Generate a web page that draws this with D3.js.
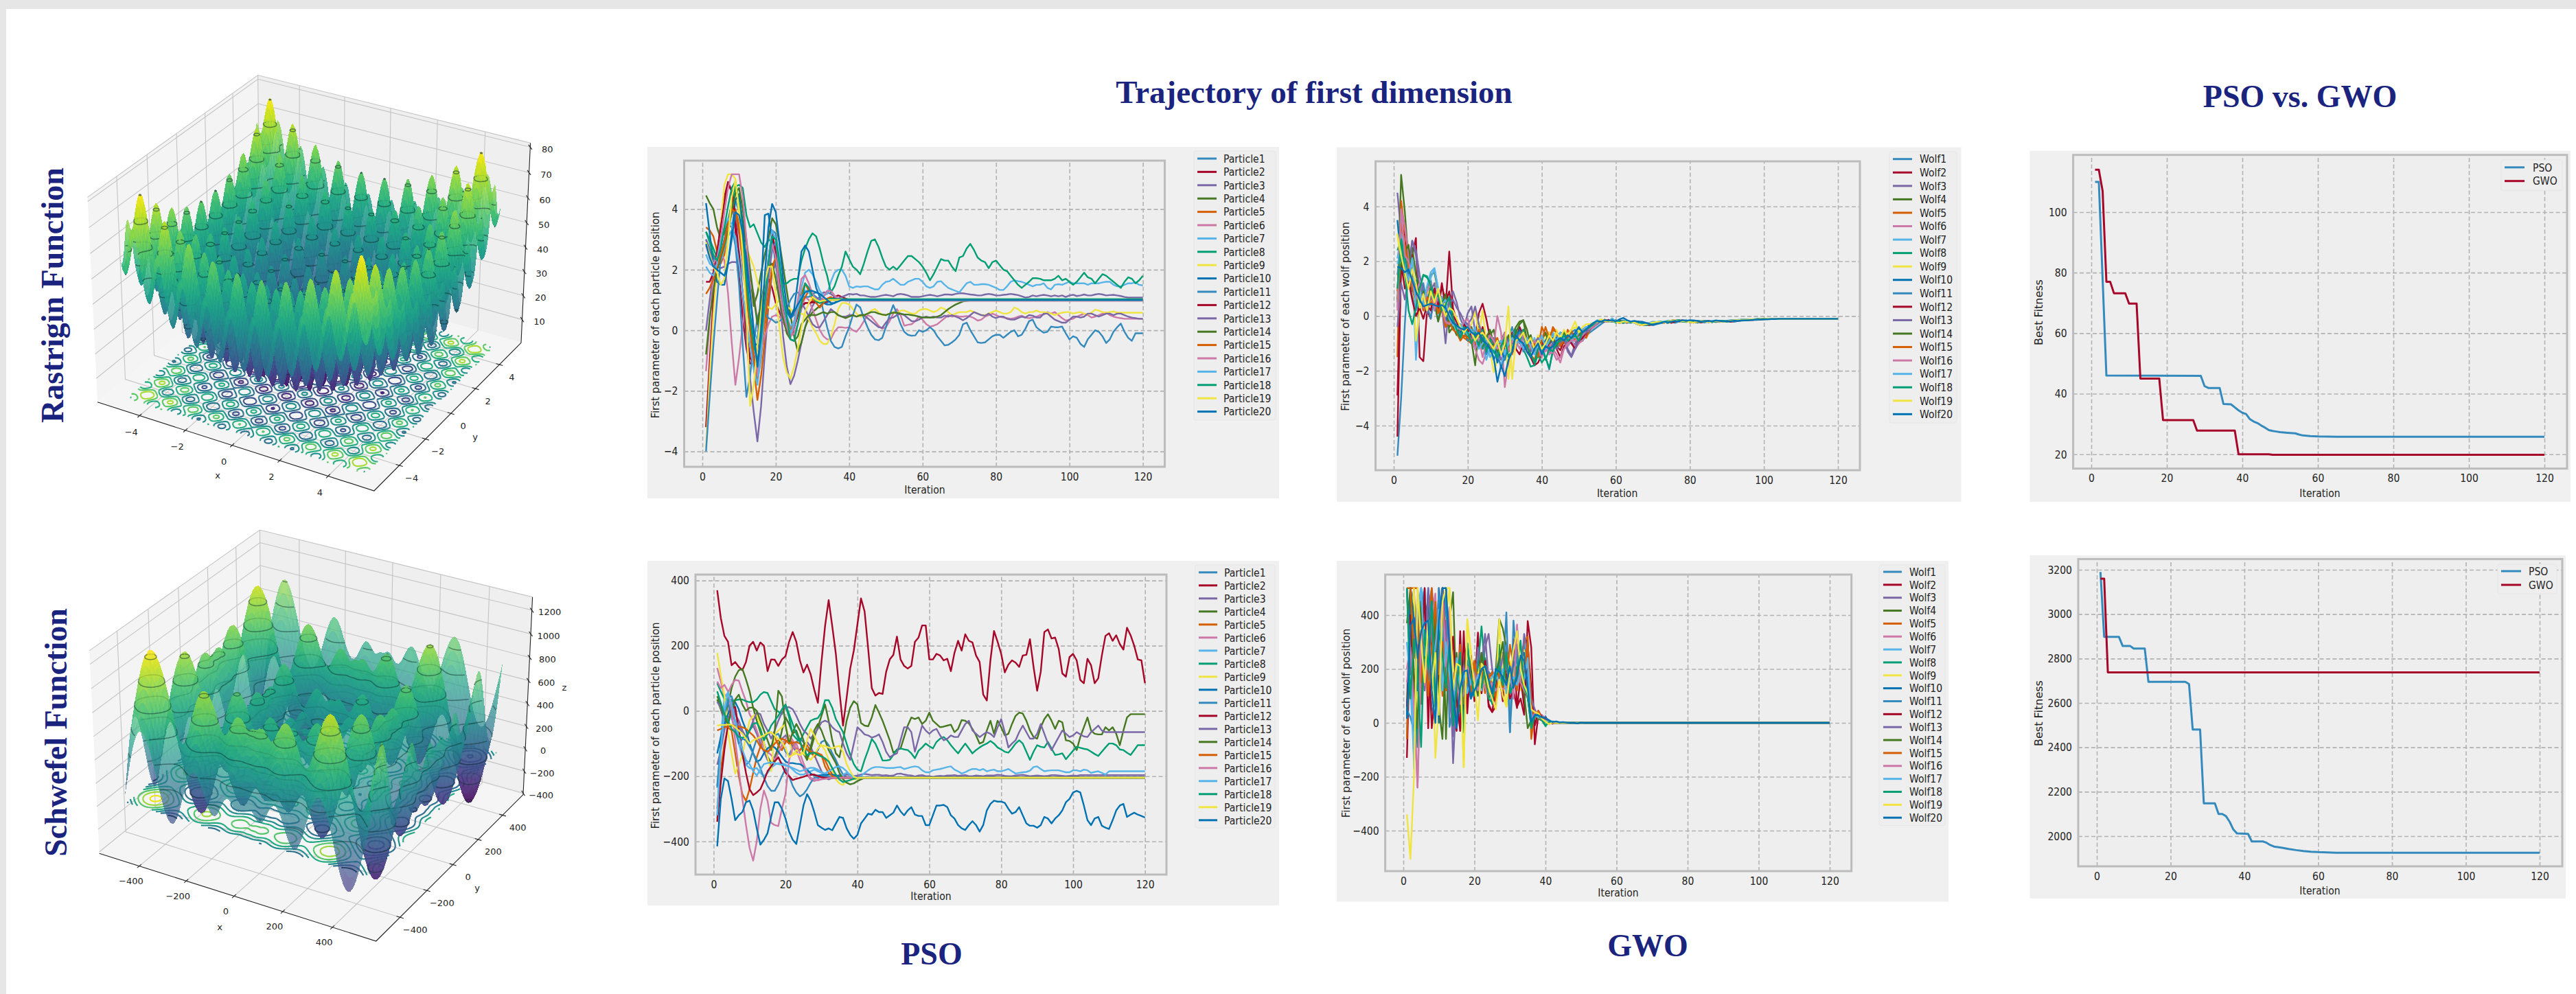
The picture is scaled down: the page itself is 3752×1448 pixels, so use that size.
<!DOCTYPE html>
<html>
<head>
<meta charset="utf-8">
<script src="https://cdn.jsdelivr.net/npm/d3@7"></script>
<style>
html, body { margin: 0; background: #fff; }
svg { display: block; }
text { font-family: "DejaVu Sans"; fill: #222; }
.tick text { font-size: 14px; }
.tick text, .stretch { transform-box: fill-box; transform-origin: center; transform: scaleY(1.18); }
.title { font-family: "Liberation Serif"; font-weight: bold; font-size: 46px; fill: #1a237e; }
</style>
</head>
<body>
<svg id="chart" width="3752" height="1448"></svg>
<script>
// all line values are read by eye off the picture, iteration 1, 2, 3 ...
// a series shorter than 120 holds its last value until iteration 120
const bmh = ["#348ABD", "#A60628", "#7A68A6", "#467821", "#D55E00", "#CC79A7", "#56B4E9", "#009E73", "#F0E442", "#0072B2"];
const iterTicks = [0, 20, 40, 60, 80, 100, 120];

const psoRastrigin = [
[3.0,2.7,2.4,2.2,2.3,2.7,3.3,4.0,4.3,3.9,3.0,1.6,0.2,-0.9,-1.7,-0.9,0.6,2.3,3.3,3.2,2.3,1.2,0.6,0.4,0.5,0.9,1.2,1.3,1.3,1.2,1.1,1.0,0.9,0.9,1.0,1.05,1.05,1.0,1.0],
[-3.2,-1.0,1.0,2.5,3.5,4.4,4.9,4.6,3.3,1.8,0.4,-0.6,-1.1,-1.1,-0.6,0.4,1.2,1.7,1.4,0.9,0.6,0.3,0.0,-0.15,0.1,0.5,0.75,0.9,0.9,0.95,0.95,0.95,0.93,0.95,1.0,1.1,1.15,1.1,1.05,1.0],
[0,1.0,1.9,2.1,2.05,2.1,2.2,2.25,2.25,2.2,1.2,-0.3,-1.6,-2.7,-3.67,-2.5,-0.8,0.8,1.9,2.2,1.2,-0.2,-1.2,-1.78,-1.5,-1.0,-0.4,0.1,0.5,0.8,1.0,1.1,1.25,1.25,1.2,1.1,1.05,1.1,1.15,1.2,1.18,1.2,1.15,1.15,1.12,1.1,1.1,1.12,1.15,1.17,1.15,1.12,1.18,1.2,1.18,1.15,1.1,1.1,1.1,1.12,1.15,1.17,1.15,1.12,1.15,1.18,1.18,1.17,1.2,1.22,1.22,1.2,1.18,1.17,1.15,1.15,1.18,1.2,1.18,1.15,1.15,1.17,1.18,1.2,1.18,1.16,1.12,1.08,1.1,1.15,1.12,1.15,1.17,1.15,1.12,1.15,1.12,1.15,1.1,1.15,1.17,1.13,1.15,1.18,1.15,1.15,1.18,1.2,1.18,1.15,1.16,1.17,1.15,1.13,1.1,1.08],
[4.45,4.2,4.0,3.4,3.0,3.2,3.6,4.2,4.7,4.3,3.6,2.8,1.8,0.8,1.2,1.9,2.5,3.0,3.7,3.5,2.9,2.1,1.3,0.5,-0.2,-0.7,-0.4,0.1,0.4,0.6,0.7,0.8,0.9,1.0,1.0,0.99],
[3.4,3.3,3.1,2.6,2.2,2.5,3.3,3.9,4.0,3.5,2.5,1.2,0,-1.2,-2.3,-1.5,-0.3,1,2,2.4,1.8,1,0.3,0,0.3,0.8,1.2,1.55,1.3,1.0,0.9,0.95,1,1.01],
[-1.35,0.3,1.7,2.5,2.6,2.3,1.2,-0.4,-1.8,-0.9,0.2,1.2,1.6,1.2,0.3,-0.6,-0.2,0.2,0.45,0.5,0.45,0.3,0.05,-0.2,-0.1,0.2,0.7,1.1,1.0,0.7,0.35,0.0,-0.2,-0.3,-0.3,-0.05,0.1,0.1,0.08,0.1,0.0,-0.05,0.1,0.3,0.5,0.45,0.3,0.15,0.05,0.1,0.3,0.55,0.7,0.5,0.15,0.18,0.2,0.3,0.45,0.35,0.2,0.12,0.15,0.2,0.3,0.4,0.5,0.45,0.48,0.45,0.45,0.47,0.45,0.4,0.32,0.35,0.45,0.5,0.55,0.5,0.45,0.42,0.4,0.38,0.4,0.45,0.48,0.42,0.4,0.42,0.45,0.5,0.52,0.6,0.55,0.6,0.5,0.4,0.32,0.35,0.38,0.45,0.5,0.55,0.5,0.42,0.45,0.5,0.55,0.58,0.5,0.45,0.42,0.4,0.38],
[2.5,2.2,2.1,2.1,2.3,2.7,3.1,3.3,3.1,2.6,1.9,1.2,0.5,0.0,-0.3,0.1,0.9,1.8,2.6,2.8,2.1,1.2,0.5,0.1,0.3,0.8,1.4,1.9,2.0,1.85,1.6,1.3,1.15,1.2,1.6,1.9,2.0,2.0,1.8,1.45,1.4,1.45,1.43,1.45,1.45,1.4,1.35,1.35,1.5,1.6,1.62,1.7,1.6,1.5,1.5,1.6,1.65,1.7,1.7,1.6,1.45,1.4,1.45,1.6,1.62,1.5,1.4,1.35,1.3,1.25,1.4,1.55,1.6,1.5,1.5,1.52,1.52,1.5,1.45,1.4,1.33,1.33,1.45,1.6,1.65,1.62,1.6,1.55,1.5,1.45,1.5,1.5,1.55,1.4,1.35,1.5,1.52,1.5,1.55,1.6,1.55,1.55,1.55,1.55,1.5,1.55,1.55,1.55,1.58,1.6,1.6,1.5,1.45,1.45,1.5,1.55,1.55,1.58,1.5,1.48],
[3.25,3.0,2.7,2.4,2.5,2.9,3.5,4.2,4.75,4.8,4.7,3.8,3.4,3.5,3.2,2.9,2.75,3,2.9,2.6,2.0,1.55,1.55,1.65,1.7,1.7,2.3,2.7,3,3.2,3.1,2.7,2.2,1.8,1.25,1.45,1.8,2.1,2.6,2.35,2.1,2.0,1.85,2.2,2.6,2.95,3.0,2.75,2.4,2.1,2,2.1,2.0,2.15,2.3,2.45,2.45,2.35,2.25,2.1,1.9,1.65,1.85,2.1,2.35,2.3,2.3,2.1,1.95,2.4,2.45,2.7,2.85,2.65,2.4,2.3,2.25,2.05,2.25,2.3,2.15,2,1.95,1.8,1.65,1.5,1.4,1.5,1.6,1.72,1.72,1.7,1.65,1.65,1.65,1.7,1.8,1.65,1.7,1.6,1.5,1.6,1.75,1.9,1.75,1.7,1.55,1.7,1.85,1.8,1.7,1.6,1.5,1.4,1.6,1.75,1.7,1.55,1.65,1.8],
[-3.9,-1.5,0.5,2.0,3.5,4.8,5.15,5.15,5.0,3.8,3.0,2.7,2.4,2.1,1.6,1.2,0.9,0.75,0.7,0.85,1.0,0.9,0.8,0.7,0.6,0.55,0.55,0.5,0.35,0.1,-0.1,-0.35,-0.45,-0.45,-0.2,0.2,0.7,0.9,0.9,0.85,0.7,0.55,0.45,0.45,0.55,0.65,0.7,0.6,0.5,0.5,0.55,0.6,0.55,0.65,0.65,0.6,0.55,0.55,0.65,0.7,0.7,0.65,0.6,0.65,0.75,0.7,0.6,0.5,0.55,0.6,0.6,0.6,0.65,0.6,0.55,0.5,0.5,0.55,0.6,0.65,0.6,0.55,0.55,0.6,0.75,0.7,0.6,0.55,0.6,0.6,0.65,0.6,0.6,0.58,0.55,0.5,0.55,0.58,0.6,0.6,0.55,0.58,0.6,0.55,0.52,0.58,0.68,0.65,0.6,0.58,0.6,0.62,0.58],
[4.2,3.2,2.2,1.6,1.5,1.5,2.2,3.2,4.3,4.5,3.5,2.0,0.5,-0.4,-0.5,1.3,3.8,3.85,3.0,2.2,1.6,1.0,0.6,0.45,0.7,1.6,2.6,2.8,2.6,2.0,1.4,1.1,0.9,0.85,0.85,0.9,1.0,1.0,0.98],
[-4,-2.2,-0.5,1.0,2.4,3.0,3.5,3.4,2.8,1.5,-0.5,-2.2,-1.5,-0.4,0.4,0.8,0.6,0.4,0.35,0.25,0.3,0.4,0.7,1.0,1.2,1.25,1.1,1.1,1.1,1.2,1.25,1.2,0.6,0.1,-0.35,-0.55,-0.6,-0.55,-0.2,0.1,0.5,0.85,0.75,0.4,0.1,-0.15,-0.3,-0.33,-0.25,0.1,0.5,0.83,0.55,0.2,-0.05,-0.15,-0.18,-0.17,0,-0.05,0.0,0.1,0.0,-0.2,-0.35,-0.5,-0.48,-0.4,-0.3,-0.15,0.2,0.25,0.0,-0.2,-0.4,-0.42,-0.4,-0.3,-0.2,-0.15,-0.15,-0.25,-0.15,-0.05,0.0,-0.2,-0.15,0.05,0.3,0.35,0.1,0,-0.08,-0.05,0.12,0.1,0.1,0.12,-0.1,-0.3,-0.2,-0.25,-0.45,-0.55,-0.3,-0.15,0,-0.05,-0.2,-0.42,-0.3,-0.05,0.1,0.22,-0.05,-0.25,-0.35,-0.1],
[1.6,1.6,1.9,2.6,3.4,4.2,4.8,4.6,3.7,2.5,1.2,0.0,-0.9,-1.1,-1.4,-0.2,1.2,2.4,3.2,2.6,1.6,0.7,0.0,-0.2,0.1,0.5,0.8,0.9,0.9,0.92,0.93,0.92,0.92,0.95,1.0,1.02],
[3.0,2.6,2.2,2.0,2.5,3.0,3.5,4.0,3.8,3.2,2.3,1.2,0.1,-0.8,-1.5,-0.5,0.6,1.7,2.7,2.9,2.1,1.0,0.3,-0.2,0.1,0.6,0.9,0.7,0.45,0.2,0.1,0.1,0.3,0.5,0.7,0.6,0.5,0.45,0.45,0.5,0.5,0.45,0.5,0.5,0.4,0.3,0.2,0.1,0.08,0.25,0.4,0.42,0.5,0.55,0.5,0.4,0.3,0.3,0.35,0.42,0.45,0.42,0.45,0.42,0.42,0.48,0.45,0.5,0.45,0.4,0.33,0.4,0.5,0.6,0.55,0.5,0.48,0.55,0.45,0.4,0.45,0.45,0.38,0.35,0.35,0.4,0.45,0.42,0.5,0.48,0.42,0.42,0.55,0.55,0.45,0.35,0.3,0.25,0.25,0.35,0.45,0.45,0.42,0.45,0.55,0.55,0.5,0.45,0.5,0.55,0.55,0.5,0.55,0.55,0.5,0.45,0.42,0.4,0.38],
[-0.8,0.4,1.3,2.0,2.4,2.8,3.3,3.9,4.5,4.7,4.0,3.0,2.0,1.1,0.2,0.9,1.6,2.1,2.2,1.7,1.0,0.4,-0.1,-0.3,-0.35,-0.2,0.2,0.35,0.5,0.5,0.5,0.55,0.6,0.55,0.6,0.6,0.5,0.45,0.4,0.45,0.5,0.45,0.5,0.5,0.55,0.6,0.6,0.55,0.52,0.5,0.55,0.58,0.58,0.55,0.52,0.52,0.5,0.48,0.45,0.42,0.42,0.42,0.42,0.45,0.5,0.6,0.7,0.78,0.85,0.9,0.95,0.97,0.98,1.0,1.01],
[1.2,1.4,1.7,2.1,2.5,2.9,3.5,4.0,3.9,3.3,2.3,1.2,0.1,-0.9,-1.6,-0.7,0.3,1.2,2.1,2.4,1.9,1.1,0.4,0,0.2,0.6,0.9,1.1,1.3,1.2,0.9,0.75,0.9,1.05,1.1,1.0],
[2.8,2.4,2.2,2.4,3.0,3.9,4.7,5.15,5.15,5.15,4.4,3.0,1.4,0,-1.5,-0.8,0.8,2.2,2.85,2.4,1.4,0.6,0.1,-0.25,0.2,1.0,1.7,1.82,1.55,1.2,1.0,0.9,1.1,1.3,1.3,1.15,1.05,1.0,0.97],
[2.1,1.9,1.8,2.2,2.9,3.4,3.7,3.5,3.0,2.2,1.2,0.3,-0.5,-1.3,-1.8,-0.7,0.9,2.4,3.3,3.0,2.0,1.0,0.3,-0.1,0.2,0.7,1.1,1.3,1.25,1.1,1,0.95,0.95,1,1.02,0.99],
[3.25,2.9,2.5,2.3,2.7,3.4,4.1,4.7,4.9,4.2,3.0,1.6,0.4,-0.5,-1.0,-0.3,0.9,2.2,3.1,3.0,2.2,1.2,0.4,-0.3,-0.35,0.2,0.9,1.55,1.4,1.1,0.95,0.9,0.95,1.0,1.05,1.03],
[2.9,2.5,2.1,1.9,1.5,1.7,3.0,4.4,4.95,4.0,2.5,0.6,-2.5,-1.8,-0.5,0.6,1.6,2.1,2.1,1.2,0.1,-0.9,-1.4,-1.6,-1.2,-0.6,0.1,0.6,0.9,1.1,1.0,0.95,0.98,1.0],
[2.85,2.4,2.1,2.0,1.9,1.8,2.2,3.0,3.9,3.8,3.2,2.4,1.2,0.0,-1.2,0.0,1.8,3.4,4.17,3.9,2.9,1.7,0.8,0.4,0.6,0.85,1.05,1.25,1.3,1.3,1.25,1.2,1.1,1.0,0.9,0.9,0.95,1.0]
];

const psoSchwefel = [
[-235,-100,0,40,45,10,-60,-120,-165,-155,-120,-85,-85,-100,-130,-110,-75,-70,-95,-125,-135,-110,-95,-85,-95,-120,-130,-135,-120,-95,-90,-105,-130,-150,-175,-195,-203,-205],
[370,285,230,212,140,150,135,125,150,200,212,185,210,200,122,158,157,138,158,168,212,242,212,155,118,142,112,65,25,150,260,340,260,175,60,-45,40,130,185,265,345,305,190,70,47,55,52,120,158,172,228,158,138,130,138,212,225,262,262,158,158,175,170,155,160,122,178,215,185,235,215,210,170,150,50,32,155,245,212,175,118,142,155,148,135,170,172,220,135,62,120,242,250,222,225,190,115,105,165,175,155,95,85,160,140,85,100,170,230,238,215,232,205,188,255,232,200,158,155,85],
[-165,-120,-60,-10,35,-10,-30,-60,-80,-60,-45,-70,-100,-125,-150,-165,-140,-110,-85,-75,-90,-110,-125,-120,-105,-95,-110,-135,-160,-185,-205,-210,-205,-200,-197,-196,-195,-197,-200,-198,-195,-193,-195,-197,-196,-196,-198,-197,-199,-198,-193,-192,-195,-197,-198,-201,-198,-197,-200,-200,-202,-200,-199,-200,-198,-198,-197,-199,-198,-197,-200,-200,-198,-199,-200,-198,-198,-198,-196,-197,-199,-200,-200,-198,-197,-196,-198,-200,-199,-198,-199,-200,-199,-197,-197,-198,-199,-200,-199,-198,-199,-197],
[35,5,-30,20,70,105,125,129,97,60,10,-30,-65,-100,-140,-160,-150,-110,-60,-20,-40,-70,-60,-90,-130,-150,-120,-80,-50,-15,20,-30,-90,-130,-142,-90,-30,10,30,20,-37,-45,-47,-20,18,-5,-30,-60,-90,-128,-120,-115,-80,-45,-20,-25,-20,-40,-30,-5,-30,-40,-50,-48,-45,-42,-65,-55,-28,-30,-38,-55,-75,-100,-95,-60,-30,-70,-30,-50,-75,-70,-40,-15,-5,-8,-30,-60,-80,-85,-50,-25,-10,-30,-55,-30,-35,-90,-92,-100,-120,-80,-50,-20,-60,-70,-72,-72,-50,-60,-50,-70,-105,-60,-20,-10],
[-300,-180,-100,-50,-60,-130,-200,-255,-276,-240,-190,-142,-110,-85,-70,-65,-80,-105,-120,-95,-85,-100,-115,-120,-110,-105,-125,-140,-130,-135,-150,-175,-195,-203,-205],
[132,90,45,55,80,95,93,60,30,-10,-30,-60,-90,-110,-125,-135,-150,-130,-105,-85,-75,-90,-120,-150,-175,-195,-210,-215,-210,-208,-207,-205],
[-330,-80,40,55,20,-40,-100,-140,-165,-175,-178,-175,-190,-200,-190,-175,-165,-160,-160,-165,-170,-180,-190,-195,-195,-190,-185,-180,-185,-190,-195,-200,-205,-205,-200,-195,-190,-195,-200,-205,-200,-190,-182,-175,-172,-172,-173,-175,-175,-175,-173,-172,-178,-175,-172,-170,-172,-182,-188,-188,-182,-180,-178,-175,-172,-170,-180,-185,-192,-188,-182,-178,-178,-182,-178,-185,-182,-180,-185,-185,-182,-178,-185,-192,-190,-188,-187,-183,-172,-170,-178,-185,-183,-182,-182,-182,-185,-188,-188,-182,-182,-185,-180,-182,-190,-187,-185,-190,-195,-185],
[85,60,37,33,30,33,35,35,30,27,27,35,50,58,55,30,5,-2,-10,16,-20,-72,-85,-93,-70,-50,-30,-25,-22,-5,33,33,10,-25,-45,-65,-100,-135,-163,-180,-185,-150,-120,-86,-100,-125,-152,-152,-150,-135,-118,-115,-118,-120,-130,-145,-122,-112,-100,-108,-115,-95,-85,-80,-90,-105,-118,-130,-115,-100,-115,-130,-120,-112,-105,-100,-92,-100,-112,-118,-125,-128,-115,-100,-90,-100,-125,-150,-125,-105,-110,-112,-95,-115,-135,-133,-130,-148,-135,-122,-110,-113,-116,-118,-125,-132,-138,-125,-112,-100,-100,-105,-118,-120,-128,-135,-120,-105],
[178,110,48,-65,-130,-192,-165,-135,-80,-30,-15,-10,-50,-100,-140,-185,-72,-60,-50,-40,-90,-135,-120,-125,-130,-140,-150,-135,-115,-105,-120,-150,-180,-210,-222,-227,-215,-212,-210,-208,-207,-206,-206,-205,-205],
[-130,-80,-40,-10,15,27,5,-30,-58,-100,-130,-156,-150,-130,-115,-107,-112,-125,-140,-155,-160,-160,-162,-163,-170,-180,-192,-198,-198,-197,-196,-195,-195,-198,-200,-203,-205],
[-230,-100,-10,30,-20,-60,-100,-85,-90,-110,-130,-150,-175,-205,-230,-245,-245,-225,-200,-177,-200,-230,-250,-262,-255,-240,-220,-205,-205,-200,-200,-203,-205],
[-340,-220,-120,-40,10,12,-60,-130,-190,-240,-258,-250,-240,-215,-185,-170,-155,-142,-165,-190,-200,-212,-208,-205,-202,-198,-196,-195,-200,-203,-205],
[28,10,-30,-20,-10,-30,-45,-70,-85,-60,-30,-5,-10,-40,-60,-85,-60,-30,-5,10,12,5,-15,-40,-60,-70,-85,-70,-55,-35,-30,-35,-50,-60,-65,-100,-130,-150,-100,-50,-60,-72,-75,-82,-78,-72,-95,-125,-142,-135,-130,-90,-50,-50,-65,-125,-85,-45,-60,-70,-60,-55,-75,-90,-85,-75,-80,-80,-60,-40,-30,-60,-70,-80,-72,-65,-70,-80,-50,-25,-65,-112,-100,-90,-65,-45,-65,-85,-85,-70,-40,-70,-100,-120,-100,-80,-60,-70,-80,-75,-65,-72,-78,-80,-65,-55,-45,-60,-65,-65],
[45,20,-20,-40,0,35,50,20,0,10,10,0,-30,-60,-90,-120,-60,62,44,-44,-100,-65,-40,-60,-90,-150,-110,-60,-40,-60,-90,-120,-140,-160,-190,-210,-220,-225,-222,-215,-210,-205],
[-60,-55,-50,-48,-45,-46,-48,-50,-55,-65,-75,-90,-110,-120,-125,-115,-100,-90,-85,-90,-100,-98,-95,-100,-110,-118,-125,-128,-130,-135,-170,-190,-200,-205],
[90,70,80,60,0,-90,-180,-270,-350,-420,-459,-400,-300,-244,-276,-343,-350,-353,-300,-255,-150,-114,-100,-130,-160,-190,-205,-210,-213,-210,-208,-206,-205],
[-320,-120,0,58,20,-30,-78,-120,-150,-163,-185,-198,-180,-163,-160,-158,-160,-163,-165,-167,-170,-175,-180,-185,-182,-178,-174,-175,-180,-188,-192,-185,-178,-172,-170,-175,-185,-198,-204,-205],
[60,25,-10,-30,-55,-65,-80,-82,-79,-60,-40,-36,-55,-90,-70,-45,-30,-15,5,20,-10,-40,-70,-95,-120,-135,-130,-128,-135,-140,-145,-155,-175,-195,-210,-218,-215,-212,-208,-206,-205],
[-45,-43,-43,-42,-42,-50,-60,-70,-85,-100,-90,-85,-80,-75,-68,-65,-75,-85,-95,-115,-142,-135,-130,-135,-130,-90,-55,-75,-100,-105,-108,-112,-115,-110,-107,-125,-163,-185,-202,-206,-205],
[-415,-270,-207,-215,-270,-335,-320,-310,-280,-275,-305,-360,-410,-395,-375,-325,-280,-280,-300,-330,-370,-395,-408,-350,-290,-255,-275,-310,-350,-358,-365,-360,-366,-345,-325,-328,-360,-380,-392,-380,-345,-330,-315,-318,-303,-310,-310,-328,-320,-312,-290,-308,-320,-305,-295,-318,-322,-322,-350,-350,-320,-290,-290,-288,-295,-320,-330,-350,-360,-365,-350,-338,-350,-370,-350,-305,-285,-275,-278,-278,-282,-300,-315,-310,-295,-320,-345,-352,-352,-358,-350,-325,-330,-345,-330,-320,-305,-280,-270,-250,-245,-250,-290,-335,-350,-330,-325,-352,-358,-362,-335,-305,-290,-285,-325,-318,-312,-318,-322,-327]
];

const gwoRastrigin = [
[-5.1,-3.0,-0.3,1.8,1.1,0.6,1.2,0.4,0.9,1.3,0.5,-0.2,0.7,0.2,-0.3,-0.1,-0.3,-0.4,-0.5,-0.3,-0.6,-0.8,-0.7,-1.0,-0.9,-1.2,-1.3,-1.5,-1.1,-1.6,-0.9,-1.2,-0.6,-0.8,-0.5,-1.0,-1.1,-0.9,-1.3,-1.1,-1.5,-1.95,-1.2,-0.9,-1.0,-0.7,-1.1,-0.9,-1.2,-0.8,-0.9,-0.7,-0.6,-0.5,-0.4,-0.3,-0.2,-0.2,-0.15],
[-4.4,2.0,3.3,1.5,2.2,2.85,-1.5,-1.65,0.2,-0.1,1.0,0.2,1.2,0.3,2.35,0.3,-0.2,-0.4,-0.6,-0.4,-0.7,-0.9,0.1,0.45,-0.1,-0.8,-1.1,-1.5,-0.9,-1.2,-1.0,-0.6,-0.9,-0.4,-0.7,-1.2,-1.5,-1.8,-1.7,-1.4,-1.0,-0.6,-0.8,-1.2,-1.5,-1.1,-1.0,-0.7,-0.9,-1.0,-0.6,-0.7,-0.5,-0.35,-0.25,-0.2,-0.2,-0.14],
[4.5,3.0,2.2,1.9,2.75,2.2,1.0,0.6,0.2,0.9,1.2,0.4,0.7,-0.3,0.6,0.9,0.5,-0.1,-0.4,0.1,0.35,-0.6,-0.8,-1.0,-0.7,-1.3,-0.9,-1.2,-1.6,-1.3,-0.8,-1.1,-0.6,-1.0,-0.8,-1.2,-0.9,-1.3,-1.5,-1.2,-0.9,-1.1,-0.8,-0.9,-1.0,-0.8,-1.2,-1.45,-1.0,-0.8,-0.9,-0.6,-0.5,-0.4,-0.3,-0.2,-0.16],
[0.5,5.15,3.8,2.0,2.5,1.5,1.0,0.2,0.8,1.5,1.6,0.9,0.6,0.2,-0.4,-0.2,-0.5,-0.7,-0.3,-0.6,-0.9,-1.8,-0.4,-0.9,-1.1,-0.7,-0.5,-1.2,-0.9,-0.6,-1.1,-0.7,-0.4,-0.2,-0.15,-0.5,-1.1,-1.3,-1.4,-1.0,-0.9,-1.2,-1.0,-0.8,-1.1,-0.9,-0.7,-0.9,-0.8,-0.6,-0.8,-0.6,-0.5,-0.3,-0.2,-0.2,-0.15],
[-1.5,4.2,3.1,2.4,1.7,1.0,0.7,1.1,0.3,0.5,0.9,0.2,0.5,0.6,0.1,-0.2,-0.3,-0.6,-0.8,-0.9,-1.0,-0.7,-0.6,-1.0,-0.8,-1.1,-1.0,-0.8,-1.3,-0.9,-1.2,-1.4,-0.9,-0.6,-0.9,-1.1,-1.4,-1.6,-1.2,-0.4,-0.7,-0.9,-0.4,-0.6,-0.9,-1.0,-0.5,-0.7,-0.9,-0.5,-0.6,-0.8,-0.5,-0.4,-0.2,-0.2,-0.13],
[0.3,3.9,3.3,2.2,1.5,0.9,1.2,0.6,0.1,0.7,0.4,0.8,0.2,-0.4,0.0,-0.1,-0.3,-0.5,-0.2,-0.4,-0.8,-1.2,-1.6,-1.75,-1.3,-0.9,-1.1,0.0,-0.6,-2.6,-1.7,-1.3,-0.9,-1.2,-0.7,-0.9,-1.1,-1.3,-1.5,-1.1,-1.3,-1.0,-1.2,-1.4,-1.7,-1.2,-1.1,-0.8,-1.2,-1.0,-0.9,-0.6,-0.5,-0.4,-0.25,-0.2,-0.18],
[2.1,3.0,2.4,1.7,2.1,-1.6,0.4,1.0,0.7,1.4,1.7,1.0,0.6,0.2,0.3,-0.2,-0.5,-0.4,-0.2,-0.5,-0.7,-0.4,-1.1,-0.9,-1.6,-1.2,-0.9,-1.5,-1.8,-1.3,-1.1,-0.8,-1.2,-0.7,-0.9,-1.1,-1.3,-0.8,-1.2,-0.9,-1.1,-0.8,-0.6,-0.9,-1.1,-0.7,-0.8,-1.0,-0.7,-0.8,-0.6,-0.5,-0.45,-0.3,-0.2,-0.15,-0.16],
[2.4,2.8,2.2,1.4,1.1,0.6,1.0,1.5,1.4,1.2,0.7,0.3,0.5,0.7,-0.2,-0.4,-0.3,-0.8,-0.5,-0.9,-0.7,-0.6,-1.0,-1.2,-0.9,-0.7,-1.3,-1.4,-1.0,-0.7,-1.2,-0.9,-0.5,-0.8,-1.2,-1.5,-1.85,-1.8,-1.4,-1.7,-1.5,-1.9,-1.3,-0.8,-1.0,-0.7,-0.9,-0.6,-0.8,-0.9,-0.5,-0.5,-0.4,-0.35,-0.25,-0.18,-0.15],
[3.0,1.8,1.4,1.0,1.8,-0.9,0.2,0.7,1.0,0.5,0.9,0.7,0.3,0.5,0.1,-0.3,-0.5,-0.3,-0.6,-0.5,-0.3,0.2,-0.7,0.2,-0.9,-1.2,-2.05,-1.6,-0.9,-0.8,-2.3,-1.1,-0.8,-0.6,-1.0,-0.9,-1.3,-1.1,-0.7,-1.2,-0.8,-0.6,-0.9,-0.5,-0.9,-0.6,-0.7,-0.5,-0.4,-0.55,-0.5,-0.4,-0.35,-0.3,-0.2,-0.14],
[3.5,2.0,1.5,1.7,0.9,1.3,0.3,0.8,0.5,1.0,0.2,0.7,0.4,-0.2,0.2,-0.1,-0.4,-0.6,-0.4,-0.7,-0.5,-0.8,-1.0,-0.8,-1.1,-1.3,-1.0,-1.7,-1.2,-1.6,-1.0,-0.7,-0.9,-0.5,-1.1,-0.8,-1.0,-1.2,-0.9,-1.1,-0.9,-0.7,-0.9,-0.8,-0.6,-0.7,-0.8,-0.6,-0.7,-0.5,-0.5,-0.45,-0.3,-0.25,-0.2,-0.17],
[1.5,2.6,1.9,1.2,0.7,0.2,0.6,1.2,0.4,-0.1,0.7,0.9,0.2,0.0,-0.1,-0.2,-0.4,-0.7,-0.5,-0.9,-0.6,-1.2,-0.8,-1.0,-1.4,-1.1,-1.6,-1.3,-1.9,-1.5,-0.8,-0.4,-1.0,-0.6,-1.3,-1.0,-0.7,-1.4,-1.1,-1.3,-1.0,-0.8,-1.0,-0.6,-0.8,-0.7,-0.9,-0.6,-0.5,-0.7,-0.5,-0.4,-0.4,-0.25,-0.2,-0.13],
[-2.9,1.9,1.0,1.3,0.6,0.0,0.3,-0.1,0.4,0.2,1.0,0.3,1.1,0.5,0.9,0.0,-0.2,-0.5,-0.3,-0.5,-0.7,-1.1,-0.9,-0.4,-1.0,-0.7,-0.9,-1.2,-1.0,-0.8,-1.3,-0.9,-1.2,-1.4,-1.0,-1.3,-1.5,-1.2,-1.4,-0.9,-1.2,-1.0,-0.8,-1.1,-1.25,-0.9,-0.8,-1.0,-1.2,-0.9,-0.8,-0.6,-0.45,-0.35,-0.2,-0.15],
[-0.4,1.2,0.6,1.4,2.75,2.4,1.5,0.9,0.1,0.7,0.4,0.9,0.4,-1.0,0.5,0.6,0.3,0.1,-0.2,-0.3,-0.1,0.35,-0.3,-0.7,-0.9,-1.1,-0.8,-1.2,-1.0,-0.7,-1.1,-1.3,-1.0,-0.7,-1.2,-0.9,-1.3,-1.0,-0.8,-1.2,-1.1,-1.4,-1.0,-1.2,-1.0,-0.8,-1.3,-1.5,-1.2,-0.9,-0.7,-0.6,-0.5,-0.3,-0.2,-0.16],
[0.6,1.9,2.3,2.6,1.4,0.8,0.4,0.9,0.2,1.1,0.5,-0.2,0.3,0.8,-0.6,-0.4,-0.7,-0.3,-0.5,-0.8,-0.4,-0.9,-0.6,-1.1,-0.8,-0.5,-1.0,-1.3,-0.9,-1.1,-0.7,-0.9,-0.6,-0.3,-0.15,-0.9,-0.7,-1.2,-1.3,-0.9,-0.6,-1.0,-0.7,-1.1,-0.8,-0.6,-0.9,-0.7,-0.8,-0.7,-0.5,-0.5,-0.4,-0.3,-0.2,-0.14],
[0.9,3.4,2.6,1.8,1.0,0.5,1.0,0.2,0.7,0.4,0.8,0.1,0.3,-0.4,-0.2,-0.5,-0.6,-0.9,-0.7,-0.8,-0.9,-1.0,-0.5,-0.9,-1.0,-1.2,-1.1,-1.0,-1.4,-1.0,-1.2,-0.9,-1.1,-0.8,-0.5,-1.0,-1.2,-1.0,-1.5,-0.9,-0.4,-0.8,-0.5,-0.6,-1.1,-0.9,-0.8,-0.5,-0.9,-0.6,-0.5,-0.5,-0.35,-0.3,-0.2,-0.15],
[0.2,3.9,2.2,2.0,1.3,0.6,1.0,0.3,0.9,1.2,0.2,0.8,0.3,-0.2,-0.3,-0.1,-0.4,-0.5,-0.2,-0.1,-0.6,-1.2,-0.8,-1.5,-1.0,-0.7,-0.9,-1.2,-1.0,-0.6,-1.3,-0.9,-1.1,-0.7,-1.0,-1.3,-1.1,-0.9,-1.2,-1.5,-1.1,-1.4,-1.3,-1.6,-1.5,-1.2,-1.0,-0.9,-0.9,-0.8,-0.7,-0.5,-0.45,-0.35,-0.25,-0.17],
[1.9,2.4,1.8,1.3,2.1,0.2,0.9,0.4,1.1,1.6,1.75,1.0,0.4,0.6,-0.1,-0.3,-0.5,-0.3,-0.5,-0.7,-0.5,-0.8,-1.2,-1.0,-0.8,-1.5,-1.3,-1.0,-0.9,-1.4,-1.0,-0.8,-1.0,-0.9,-1.2,-0.8,-1.1,-1.4,-1.0,-0.7,-1.2,-0.9,-0.7,-0.9,-0.6,-0.8,-0.9,-0.7,-0.8,-0.6,-0.5,-0.4,-0.4,-0.25,-0.15,-0.18,-0.15,-0.2,-0.08,-0.2,-0.2,-0.22,-0.18,-0.2,-0.25,-0.3,-0.27,-0.25,-0.25,-0.2,-0.22,-0.25,-0.2,-0.18,-0.18,-0.15,-0.2,-0.17,-0.2,-0.22,-0.2,-0.18,-0.17,-0.2,-0.22,-0.18,-0.17,-0.2,-0.18,-0.17,-0.15,-0.16,-0.14,-0.13,-0.13,-0.12,-0.12,-0.12,-0.11,-0.1],
[1.0,2.8,1.6,0.2,-0.3,0.3,1.0,1.5,1.45,1.1,0.6,0.8,0.2,0.4,0.7,-0.1,-0.5,-0.8,-0.4,-0.6,-1.0,-0.7,-1.1,-0.5,-1.3,-0.9,-1.3,-1.5,-1.1,-0.8,-1.5,-1.2,-0.7,-0.9,-0.5,-1.1,-1.4,-1.7,-1.2,-1.1,-1.6,-1.2,-1.3,-1.0,-0.9,-0.7,-0.9,-0.8,-0.7,-0.9,-0.6,-0.5,-0.4,-0.3,-0.2,-0.22,-0.15,-0.2,-0.15,-0.25,-0.2,-0.18,-0.22,-0.24,-0.2,-0.2,-0.25,-0.28,-0.3,-0.25,-0.22,-0.2,-0.22,-0.18,-0.2,-0.18,-0.16,-0.2,-0.22,-0.2,-0.2,-0.18,-0.2,-0.2,-0.2,-0.22,-0.2,-0.18,-0.17,-0.2,-0.16,-0.17,-0.15,-0.14,-0.14,-0.13,-0.12,-0.11,-0.11,-0.1],
[3.0,2.2,1.6,1.0,1.7,1.2,0.3,0.8,0.2,0.9,0.5,1.0,0.4,0.0,0.3,0.2,-0.1,-0.4,-0.6,-0.4,-0.6,-0.9,-0.7,-0.6,-0.8,-1.0,-1.2,-0.9,-1.4,-1.0,0.35,-2.3,-0.9,-0.8,-0.6,-1.0,-0.8,-1.2,-0.9,-1.2,-1.0,-0.7,-0.9,-0.6,-0.8,-0.5,-0.7,-0.5,-0.2,-0.6,-0.4,-0.3,-0.3,-0.25,-0.2,-0.12],
[1.8,1.75,1.6,1.7,1.3,0.9,0.6,0.35,0.4,0.45,0.4,0.35,0.4,0.3,0.0,-0.25,-0.35,-0.45,-0.5,-0.4,-0.6,-0.7,-0.6,-0.9,-1.0,-1.2,-1.5,-2.4,-1.8,-2.2,-1.6,-1.3,-0.7,-0.9,-1.0,-1.3,-1.5,-1.2,-1.0,-1.4,-1.1,-1.2,-1.1,-0.9,-0.8,-0.9,-0.7,-0.8,-0.6,-0.4,-0.6,-0.5,-0.35,-0.25,-0.18,-0.2,-0.15,-0.17,-0.15,-0.2,-0.12,-0.07,-0.15,-0.2,-0.18,-0.2,-0.22,-0.25,-0.28,-0.32,-0.28,-0.25,-0.22,-0.22,-0.2,-0.18,-0.2,-0.15,-0.18,-0.15,-0.16,-0.18,-0.2,-0.2,-0.18,-0.2,-0.16,-0.18,-0.2,-0.18,-0.19,-0.17,-0.18,-0.16,-0.16,-0.15,-0.14,-0.13,-0.13,-0.12,-0.12,-0.11,-0.11,-0.1]
];
// the band all wolves share after about iteration 58, appended to the shorter rows above
const gwoRastriginTail = [-0.18,-0.2,-0.16,-0.22,-0.25,-0.2,-0.22,-0.2,-0.24,-0.3,-0.34,-0.3,-0.27,-0.24,-0.22,-0.22,-0.25,-0.2,-0.17,-0.15,-0.2,-0.18,-0.2,-0.22,-0.24,-0.2,-0.18,-0.2,-0.22,-0.2,-0.18,-0.2,-0.21,-0.18,-0.17,-0.16,-0.15,-0.14,-0.14,-0.13,-0.12,-0.12,-0.11,-0.11,-0.1];

const gwoSchwefel = [
[-60,380,390,100,260,420,180,60,0,300,500,420,120,-20,200,90,150,230,100,210,150,260,120,190,170,100,250,170,410,-35,200,310,220,300,120,-10,40,20,10,25,-5,5,3,0],
[-130,370,500,70,500,190,300,-20,120,500,380,250,180,60,-30,340,40,120,230,110,335,120,230,70,40,60,180,80,220,120,310,60,90,30,378,280,-80,30,10,20,5,-3,4,0],
[30,500,420,200,480,300,420,500,350,120,280,500,300,-150,120,250,170,90,190,230,120,170,280,330,200,140,200,260,130,180,240,150,210,130,90,40,20,15,25,10,5,2,0],
[500,180,460,320,70,400,450,260,340,120,500,-60,380,485,60,260,120,200,90,160,210,110,240,170,90,190,385,350,280,190,120,300,170,250,100,-15,30,12,18,5,3,1],
[-60,500,500,500,300,120,350,500,200,420,100,500,260,100,60,290,70,210,130,230,110,200,120,160,190,80,260,170,140,290,210,120,230,300,320,-60,40,25,10,15,2,3,0],
[200,300,90,-240,200,420,120,380,480,220,350,150,430,180,200,120,90,170,240,150,210,120,190,130,100,150,210,125,280,160,90,360,140,230,120,10,50,20,30,15,4,3,0],
[100,400,-170,330,500,450,260,400,180,500,300,480,200,110,170,220,130,190,100,160,210,150,180,120,90,190,250,210,160,120,200,280,180,150,110,30,20,15,10,12,5,2,1],
[20,250,140,-90,430,180,340,450,200,345,120,380,250,90,180,100,225,295,160,110,210,358,200,150,70,130,290,170,240,140,180,300,210,260,90,5,28,35,15,-10,5,3,1],
[90,350,500,40,300,360,200,430,-130,60,290,400,500,190,220,210,-165,385,270,130,180,230,120,110,170,90,385,180,60,230,150,340,120,270,150,50,45,30,10,8,-3,2,0],
[15,500,380,120,370,250,500,150,300,0,500,420,210,130,-20,120,180,200,90,170,130,190,210,160,80,200,190,130,170,110,230,180,240,260,140,20,30,22,8,10,1,3,0],
[50,20,-30,250,400,500,160,330,90,500,250,500,-15,60,230,-30,210,130,190,110,170,120,210,140,90,190,240,120,290,-35,380,220,170,130,200,15,30,18,25,5,2,1,0],
[60,400,70,290,190,500,-20,380,300,120,500,260,150,320,90,-30,340,35,250,80,180,110,230,60,40,130,210,150,180,90,120,55,170,60,290,130,-10,45,20,10,4,0],
[500,180,300,460,240,120,500,300,420,260,130,380,100,-50,170,90,210,160,130,110,280,210,330,160,100,120,170,250,200,160,240,290,150,330,260,90,50,20,10,5,2,0],
[370,500,180,-20,450,240,320,130,400,60,-60,300,200,100,260,40,130,210,130,180,100,260,170,90,130,180,230,300,130,190,150,210,170,110,-20,10,30,15,10,5,1,0],
[500,500,240,390,150,330,100,280,450,180,300,120,220,160,210,130,90,170,115,230,150,200,110,180,140,90,200,120,260,210,150,130,240,170,300,60,20,45,10,8,3,0],
[150,280,60,-240,350,140,260,400,130,290,500,210,360,100,150,70,110,210,140,180,120,160,130,100,150,120,135,125,130,200,90,365,150,120,100,15,35,20,12,6,2,0],
[300,130,-130,420,500,250,380,150,280,420,120,300,180,70,240,130,190,110,160,130,180,120,210,150,170,190,140,200,110,150,170,140,190,160,240,10,25,22,15,8,3,1,0],
[500,90,310,180,-90,345,200,450,60,345,250,130,300,-10,130,260,-35,295,180,100,160,130,210,90,75,170,210,140,260,110,140,180,305,130,100,-20,25,30,10,-12,4,2,1,0],
[-340,-505,-200,500,300,150,380,130,260,30,450,500,500,120,220,210,-165,380,240,150,10,220,200,130,90,50,160,100,60,190,270,340,200,140,110,50,40,35,15,5,-5,2,0],
[20,360,390,240,340,370,380,120,0,380,500,500,280,100,-10,130,190,195,90,120,150,200,210,160,110,200,190,170,140,210,130,170,250,230,130,5,30,28,20,18,10,3,5,2,3,1,0,0,-2,1,0]
];

const psoFitnessRastrigin = [[1,110],[2,110],[3,78],[4,46],[29,45.9],[30,42.5],[31,41.9],[34,41.9],[35,36.6],[37,36.5],[38,35.5],[39,34.5],[40,33.7],[41,33.3],[42,31.6],[43,30.8],[44,30.3],[45,29.5],[46,28.8],[47,28],[48,27.7],[49,27.5],[50,27.3],[52,27.1],[54,26.9],[55,26.5],[56,26.2],[58,26],[60,25.9],[65,25.8],[120,25.8]];
const gwoFitnessRastrigin = [[1,114],[2,114],[3,107],[4,77],[5,77],[6,73.2],[9,73.2],[10,69.8],[12,69.8],[13,45],[18,45],[19,31.3],[27,31.3],[28,27.8],[38,27.8],[39,20],[47,20],[48,19.8],[120,19.8]];
const psoFitnessSchwefel = [[1,3190],[2,2898],[6,2898],[7,2857],[9,2857],[10,2845],[13,2845],[14,2695],[24,2695],[25,2685],[26,2480],[28,2480],[29,2148],[32,2148],[33,2100],[34,2100],[35,2090],[36,2065],[37,2030],[38,2012],[41,2010],[42,1976],[45,1976],[46,1970],[47,1960],[48,1953],[50,1948],[52,1942],[54,1937],[56,1933],[58,1930],[60,1928],[65,1925],[120,1925]];
const gwoFitnessSchwefel = [[1,3160],[2,3160],[3,2738],[120,2738]];

const particleNames = d3.range(1, 21).map(i => `Particle${i}`);
const wolfNames = d3.range(1, 21).map(i => `Wolf${i}`);

// the two 3D surfaces are the functions named in their titles, evaluated on a grid:
// their thousands of heights cannot be read off the picture one by one
const rastrigin = (x, y) => 20 + x * x + y * y - 10 * Math.cos(2 * Math.PI * x) - 10 * Math.cos(2 * Math.PI * y);
const schwefel = (x, y) => 418.98 - x * Math.sin(Math.sqrt(Math.abs(x))) - y * Math.sin(Math.sqrt(Math.abs(y)));

const svg = d3.select("#chart");

svg.append("rect").attr("width", 3752).attr("height", 13).attr("fill", "#e6e6e6");
svg.append("rect").attr("width", 9).attr("height", 1448).attr("fill", "#e6e6e6");

function title(text, x, y, rotate, size) {
    svg.append("text").attr("class", "title").attr("text-anchor", "middle")
        .style("font-size", size ? size + "px" : null)
        .attr("transform", `translate(${x},${y})` + (rotate ? " rotate(-90)" : ""))
        .text(text);
}
title("Trajectory of first dimension", 1914, 150, false, 47);
title("PSO vs. GWO", 3350, 156);
title("PSO", 1357, 1405);
title("GWO", 2400, 1393);
title("Rastrigin Function", 92, 430, true);
title("Schwefel Function", 97, 1067, true);

function linePanel(c) {
    const g = svg.append("g");
    const [fx0, fy0, fx1, fy1] = c.frame;
    g.append("rect").attr("x", c.bg[0]).attr("y", c.bg[1])
        .attr("width", c.bg[2] - c.bg[0]).attr("height", c.bg[3] - c.bg[1]).attr("fill", "#f0f0f0");
    g.append("rect").attr("x", fx0).attr("y", fy0).attr("width", fx1 - fx0).attr("height", fy1 - fy0).attr("fill", "#eeeeee");

    const x = d3.scaleLinear().domain([0, 120]).range(c.xRange);
    const y = d3.scaleLinear().domain(c.yDomain).range(c.yRange);

    const xAxis = g.append("g").attr("transform", `translate(0,${fy1})`)
        .call(d3.axisBottom(x).tickValues(iterTicks).tickSize(-(fy1 - fy0)).tickPadding(9));
    const yAxis = g.append("g").attr("transform", `translate(${fx0},0)`)
        .call(d3.axisLeft(y).tickValues(c.yTicks).tickSize(-(fx1 - fx0)).tickPadding(9).tickFormat(d3.format("d")));
    [xAxis, yAxis].forEach(a => {
        a.select(".domain").remove();
        a.selectAll(".tick line").attr("stroke", "#b2b2b2").attr("stroke-width", 1.6).attr("stroke-dasharray", "6,3.5");
        a.selectAll(".tick text").attr("fill", "#222");
    });

    const line = d3.line().x(d => x(d[0])).y(d => y(d[1]));
    g.selectAll(".series").data(c.series).join("path")
        .attr("fill", "none")
        .attr("stroke", (d, i) => bmh[i % 10])
        .attr("stroke-width", c.lineWidth)
        .attr("stroke-linejoin", "round")
        .attr("d", d => line(d));

    g.append("rect").attr("x", fx0).attr("y", fy0).attr("width", fx1 - fx0).attr("height", fy1 - fy0)
        .attr("fill", "none").attr("stroke", "#bcbcbc").attr("stroke-width", 3);

    g.append("text").attr("class", "stretch").attr("text-anchor", "middle").attr("font-size", 14)
        .attr("x", c.xLabel[0]).attr("y", c.xLabel[1]).text("Iteration");
    g.append("text").attr("text-anchor", "middle").attr("font-size", c.yFont)
        .attr("transform", `translate(${c.yLabel[0]},${c.yLabel[1]}) rotate(-90)`).attr("dy", "0.35em").text(c.yText);

    const l = c.legend;
    g.append("rect").attr("x", l.box[0]).attr("y", l.box[1]).attr("rx", 3)
        .attr("width", l.box[2] - l.box[0]).attr("height", l.box[3] - l.box[1])
        .attr("fill", "#eeeeee").attr("stroke", "#e6e6e6");
    const row = g.selectAll(".row").data(c.names).join("g")
        .attr("transform", (d, i) => `translate(0,${l.first + i * l.step})`);
    row.append("line").attr("x1", l.h0).attr("x2", l.h1)
        .attr("stroke", (d, i) => bmh[i % 10]).attr("stroke-width", 3);
    row.append("text").attr("class", "stretch").attr("x", l.t).attr("dy", "0.35em").attr("font-size", 14).text(d => d);
}

// values -> [iter, value] pairs, last value held to iteration 120
const toPairs = v => {
    const p = v.slice(0, 120).map((d, i) => [i + 1, d]);
    if (v.length < 120) p.push([120, v[v.length - 1]]);
    return p;
};

linePanel({ bg: [943, 214, 1863, 726], frame: [996.5, 234, 1696.5, 680], xRange: [1023, 1664.6],
    yDomain: [4, -4], yRange: [304.6, 657.6], yTicks: [-4, -2, 0, 2, 4], lineWidth: 2.4, yFont: 15,
    series: psoRastrigin.map(toPairs), names: particleNames, yText: "First parameter of each particle position",
    xLabel: [1347, 718], yLabel: [955, 459],
    legend: { box: [1739, 220, 1858, 612], first: 231, step: 19.4, h0: 1744, h1: 1772, t: 1782 } });
linePanel({ bg: [943, 817, 1863, 1319], frame: [1013, 837, 1699, 1274], xRange: [1039.4, 1667.7],
    yDomain: [400, -400], yRange: [845.6, 1225.7], yTicks: [-400, -200, 0, 200, 400], lineWidth: 2.4, yFont: 15,
    series: psoSchwefel.map(toPairs), names: particleNames, yText: "First parameter of each particle position",
    xLabel: [1356, 1310], yLabel: [955, 1057],
    legend: { box: [1740.6, 823, 1857, 1206], first: 833.8, step: 19.0, h0: 1746, h1: 1773, t: 1783 } });
linePanel({ bg: [1947, 214.5, 2856.5, 731], frame: [2003.5, 235, 2709, 685], xRange: [2030, 2677],
    yDomain: [4, -4], yRange: [300.7, 620], yTicks: [-4, -2, 0, 2, 4], lineWidth: 2.4, yFont: 15,
    series: gwoRastrigin.map(v => toPairs(v.length < 100 ? v.concat(gwoRastriginTail) : v)), names: wolfNames, yText: "First parameter of each wolf position",
    xLabel: [2355.6, 723], yLabel: [1960, 461],
    legend: { box: [2752, 221, 2850, 616], first: 231.7, step: 19.56, h0: 2757, h1: 2785, t: 2796 } });
linePanel({ bg: [1947, 817, 2838, 1313.5], frame: [2017.6, 837, 2696.7, 1269], xRange: [2044, 2665],
    yDomain: [400, -400], yRange: [896, 1210], yTicks: [-400, -200, 0, 200, 400], lineWidth: 2.4, yFont: 15,
    series: gwoSchwefel.map(toPairs), names: wolfNames, yText: "First parameter of each wolf position",
    xLabel: [2357, 1305], yLabel: [1960.6, 1053.4],
    legend: { box: [2737, 823, 2833, 1202.7], first: 833, step: 18.85, h0: 2743, h1: 2770, t: 2781 } });
linePanel({ bg: [2956.4, 219.6, 3744, 731], frame: [3019.6, 225.7, 3739, 682.6], xRange: [3046, 3706],
    yDomain: [100, 20], yRange: [309, 661.7], yTicks: [20, 40, 60, 80, 100], lineWidth: 3, yFont: 16,
    series: [psoFitnessRastrigin, gwoFitnessRastrigin], names: ["PSO", "GWO"], yText: "Best Fitness",
    xLabel: [3379, 723], yLabel: [2969, 455],
    legend: { box: [3643, 233, 3732, 277.6], first: 243.8, step: 19.9, h0: 3648, h1: 3677, t: 3689 } });
linePanel({ bg: [2956.4, 809, 3737, 1309], frame: [3027, 814.4, 3732, 1262], xRange: [3054, 3699],
    yDomain: [3200, 2000], yRange: [830, 1218], yTicks: [2000, 2200, 2400, 2600, 2800, 3000, 3200], lineWidth: 3, yFont: 16,
    series: [psoFitnessSchwefel, gwoFitnessSchwefel], names: ["PSO", "GWO"], yText: "Best Fitness",
    xLabel: [3379, 1302], yLabel: [2969, 1039],
    legend: { box: [3638, 822, 3724, 865], first: 832, step: 20, h0: 3643, h1: 3672, t: 3683 } });

// matplotlib default 3D view (elev 30, azim -60) fitted to the box corners in the picture
function surface3d(c) {
    const g = svg.append("g");
    const boxX = 1.19, boxY = 1.19, boxZ = 0.893, dist = 10;
    const n = [0.433, -0.75, 0.5], right = [0.866, 0.5, 0], up = [-0.25, 0.433, 0.866];
    const dot = (a, b) => a[0] * b[0] + a[1] * b[1] + a[2] * b[2];
    const raw = (u, v, w) => {
        const d = [(u - 0.5) * boxX, (v - 0.5) * boxY, (w - 0.5) * boxZ];
        const zv = dot(n, d) - dist;
        return [dot(right, d) / -zv, dot(up, d) / -zv, zv];
    };
    const sx = d3.scaleLinear().domain([raw(0, 0, 0)[0], raw(1, 1, 0)[0]]).range([c.leftBottom, c.rightBottom]);
    const sy = d3.scaleLinear().domain([raw(1, 0, 0)[1], raw(0, 1, 1)[1]]).range([c.frontBottom, c.backTop]);
    const ux = d3.scaleLinear().domain([-c.lim, c.lim]).range([0, 1]);
    const uz = d3.scaleLinear().domain(c.zLim).range([0, 1]);
    const proj = (x, y, z) => {
        const r = raw(ux(x), ux(y), uz(z));
        return [sx(r[0]), sy(r[1]), r[2]];
    };
    const pathOf = pts => "M" + pts.map(p => {
        const q = proj(p[0], p[1], p[2]);
        return q[0].toFixed(1) + "," + q[1].toFixed(1);
    }).join("L");

    const lo = -c.lim, hi = c.lim, z0 = c.zLim[0], z1 = c.zLim[1];

    // panes
    const panes = [
        { pts: [[lo, lo, z0], [lo, hi, z0], [lo, hi, z1], [lo, lo, z1]], fill: "#f4f4f4" },
        { pts: [[lo, hi, z0], [hi, hi, z0], [hi, hi, z1], [lo, hi, z1]], fill: "#efefef" },
        { pts: [[lo, lo, z0], [hi, lo, z0], [hi, hi, z0], [lo, hi, z0]], fill: "#f5f5f5" }
    ];
    g.selectAll(".pane").data(panes).join("path").attr("d", d => pathOf(d.pts) + "Z").attr("fill", d => d.fill);

    // grid lines on the panes
    const gridLines = [];
    c.xyTicks.forEach(t => {
        gridLines.push([[t, lo, z0], [t, hi, z0], [t, hi, z1]]);
        gridLines.push([[lo, t, z1], [lo, t, z0], [hi, t, z0]]);
    });
    c.zTicks.forEach(t => gridLines.push([[lo, lo, t], [lo, hi, t], [hi, hi, t]]));
    gridLines.push([[lo, lo, z1], [lo, hi, z1], [hi, hi, z1]], [[lo, hi, z1], [lo, hi, z0]]);
    g.selectAll(".grid3d").data(gridLines).join("path").attr("fill", "none")
        .attr("stroke", "#c4c4c4").attr("stroke-width", 1.1).attr("d", d => pathOf(d));

    // axes lines and ticks
    const ax = [[[lo, lo, z0], [hi, lo, z0], [hi, hi, z0], [hi, hi, z1]]];
    const span = hi - lo;
    c.xyTicks.forEach(t => {
        ax.push([[t, lo - span * 0.012, z0], [t, lo + span * 0.012, z0]]);
        ax.push([[hi - span * 0.012, t, z0], [hi + span * 0.012, t, z0]]);
    });
    c.zTicks.forEach(t => ax.push([[hi - span * 0.012, hi + span * 0.012, t], [hi + span * 0.012, hi - span * 0.012, t]]));
    g.selectAll(".axis3d").data(ax).join("path").attr("fill", "none")
        .attr("stroke", "#222").attr("stroke-width", 1.1).attr("d", d => pathOf(d));

    // heights on the grid
    const m = c.grid;
    const gx = d3.range(m).map(i => c.dataLim * (2 * i / (m - 1) - 1));
    const values = new Array(m * m);
    for (let j = 0; j < m; j++) for (let i = 0; i < m; i++) values[j * m + i] = c.fn(gx[i], gx[j]);
    const zMin = d3.min(values), zMax = d3.max(values);
    const color = z => d3.interpolateViridis((z - zMin) / (zMax - zMin));

    // contour rings as short segments, dropped where they run along the grid border
    const contourSegments = levels => d3.contours().size([m, m]).thresholds(levels)(values).map(cn => {
        const segs = [];
        const toX = v => c.dataLim * (2 * (v - 0.5) / (m - 1) - 1);
        cn.coordinates.forEach(poly => poly.forEach(ring => {
            for (let k = 1; k < ring.length; k++) {
                const a = ring[k - 1], b = ring[k];
                if ([a[0], a[1], b[0], b[1]].some(v => v <= 0.5 || v >= m - 0.5)) continue;
                segs.push([toX(a[0]), toX(a[1]), toX(b[0]), toX(b[1])]);
            }
        }));
        return { level: cn.value, segs };
    });

    // contours on the plane z = floorZ, under the surface
    g.selectAll(".floor").data(contourSegments(c.floorLevels)).join("path")
        .attr("fill", "none").attr("stroke", d => color(d.level)).attr("stroke-width", 2.2)
        .attr("d", d => d.segs.map(s => pathOf([[s[0], s[1], c.floorZ], [s[2], s[3], c.floorZ]])).join(""));

    // surface quads and dark rings sorted together, far ones first
    const items = [];
    for (let j = 0; j < m - 1; j++) for (let i = 0; i < m - 1; i++) {
        const za = values[j * m + i], zb = values[j * m + i + 1], zc = values[(j + 1) * m + i + 1], zd = values[(j + 1) * m + i];
        const pts = [[gx[i], gx[j], za], [gx[i + 1], gx[j], zb], [gx[i + 1], gx[j + 1], zc], [gx[i], gx[j + 1], zd]];
        const mid = (za + zb + zc + zd) / 4;
        const depth = proj((gx[i] + gx[i + 1]) / 2, (gx[j] + gx[j + 1]) / 2, mid)[2];
        items.push({ d: pathOf(pts) + "Z", depth, fill: color(mid) });
    }
    contourSegments(c.ringLevels).forEach(r => r.segs.forEach(s => {
        if (!c.ringKeep(s[0], s[1])) return;
        const depth = proj((s[0] + s[2]) / 2, (s[1] + s[3]) / 2, r.level)[2] + 0.03;
        items.push({ d: pathOf([[s[0], s[1], r.level], [s[2], s[3], r.level]]), depth, ring: true });
    }));
    items.sort((a, b) => a.depth - b.depth);
    g.selectAll(".face").data(items).join("path")
        .attr("d", d => d.d)
        .attr("fill", d => d.ring ? "none" : d.fill)
        .attr("fill-opacity", c.alpha)
        .attr("stroke", d => d.ring ? "#10302f" : "none")
        .attr("stroke-opacity", c.ringOpacity)
        .attr("stroke-width", 1.5)
        .attr("shape-rendering", d => d.ring ? "auto" : "crispEdges");

    // tick labels
    const fmt = d3.format("d");
    const label = (p, off, text) => {
        const q = proj(p[0], p[1], p[2]);
        g.append("text").attr("x", q[0] + off[0]).attr("y", q[1] + off[1]).attr("text-anchor", "middle")
            .attr("dy", "0.35em").attr("font-size", 13).text(text);
    };
    c.xyTicks.forEach(t => label([t, lo, z0], c.xOff, fmt(t)));
    c.xyTicks.forEach(t => label([hi, t, z0], c.yOff, fmt(t)));
    c.zTicks.forEach(t => label([hi, hi, t], c.zOff, fmt(t)));
    c.axisNames.forEach(a => g.append("text").attr("x", a[1]).attr("y", a[2]).attr("text-anchor", "middle")
        .attr("dy", "0.35em").attr("font-size", 13).text(a[0]));
}

surface3d({ fn: rastrigin, grid: 141, lim: 5.867, dataLim: 5.12, zLim: [0.2, 81.6], floorZ: 0.2,
    leftBottom: 142, rightBottom: 759, frontBottom: 715, backTop: 109.5,
    xyTicks: [-4, -2, 0, 2, 4], zTicks: [10, 20, 30, 40, 50, 60, 70, 80],
    floorLevels: [10, 20, 30, 40, 50, 60, 70], ringLevels: [10, 20, 30, 40, 50, 60, 70, 80],
    ringKeep: (x, y) => 0.433 * x - 0.75 * y < 2, ringOpacity: 0.55, alpha: 0.85,
    xOff: [-12, 24], yOff: [18, 18], zOff: [25, 3],
    axisNames: [["x", 317, 692], ["y", 692, 636]] });

surface3d({ fn: schwefel, grid: 101, lim: 573, dataLim: 500, zLim: [-413, 1310], floorZ: 0,
    leftBottom: 144.7, rightBottom: 762, frontBottom: 1371, backTop: 772,
    xyTicks: [-400, -200, 0, 200, 400], zTicks: [-400, -200, 0, 200, 400, 600, 800, 1000, 1200],
    floorLevels: d3.range(-400, 1400, 200), ringLevels: d3.range(-400, 1400, 200),
    ringKeep: () => true, ringOpacity: 0.5, alpha: 0.68,
    xOff: [-12, 22], yOff: [22, 18], zOff: [26, 3],
    axisNames: [["x", 320, 1350], ["y", 695, 1293], ["z", 822, 1001.5]] });
</script>
</body>
</html>
